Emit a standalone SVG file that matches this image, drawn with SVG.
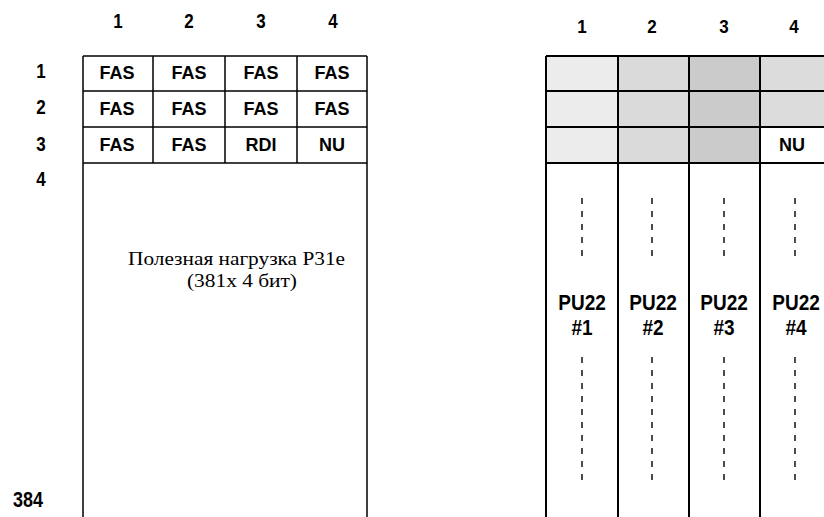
<svg xmlns="http://www.w3.org/2000/svg" width="824" height="517" viewBox="0 0 824 517">
<style>
.hdr{font-family:"Liberation Sans",Arial,sans-serif;font-weight:bold;font-size:17px;fill:#000;text-anchor:middle}
.cell{font-family:"Liberation Sans",Arial,sans-serif;font-weight:bold;font-size:18px;fill:#000;text-anchor:middle}
.pu{font-family:"Liberation Sans",Arial,sans-serif;font-weight:bold;font-size:19px;fill:#000;text-anchor:middle}
.ser{font-family:"Liberation Serif","Times New Roman",serif;font-size:18px;fill:#000;text-anchor:middle}
.ln{stroke:#000;stroke-width:1.5;fill:none}
.lnr{stroke:#000;stroke-width:2;fill:none}
.dash{stroke:#000;stroke-width:1.4;stroke-dasharray:6,7;fill:none}
</style>
<rect width="824" height="517" fill="#fff"/>
<g id="left-headers">
<text class="hdr" transform="translate(118,28) scale(1,1.2)">1</text>
<text class="hdr" transform="translate(189,28) scale(1,1.2)">2</text>
<text class="hdr" transform="translate(261,28) scale(1,1.2)">3</text>
<text class="hdr" transform="translate(333,28) scale(1,1.2)">4</text>
<text class="hdr" transform="translate(41,78) scale(1,1.2)">1</text>
<text class="hdr" transform="translate(41,114) scale(1,1.2)">2</text>
<text class="hdr" transform="translate(41,151) scale(1,1.2)">3</text>
<text class="hdr" transform="translate(41,186) scale(1,1.2)">4</text>
<text class="hdr" transform="translate(28,507) scale(1,1.2)" style="font-size:18px">384</text>
</g>
<g id="left-table">
<path class="ln" d="M83 56 H367 M83 91 H367 M83 127 H367 M83 163 H367 M83 56 V517 M367 56 V517 M153 56 V163 M225 56 V163 M297 56 V163"/>
<text class="cell" x="117" y="79">FAS</text>
<text class="cell" x="189" y="79">FAS</text>
<text class="cell" x="261" y="79">FAS</text>
<text class="cell" x="332" y="79">FAS</text>
<text class="cell" x="117" y="115">FAS</text>
<text class="cell" x="189" y="115">FAS</text>
<text class="cell" x="261" y="115">FAS</text>
<text class="cell" x="332" y="115">FAS</text>
<text class="cell" x="117" y="151">FAS</text>
<text class="cell" x="189" y="151">FAS</text>
<text class="cell" x="261" y="151">RDI</text>
<text class="cell" x="332" y="151">NU</text>
<text class="ser" x="236.5" y="265" textLength="217" lengthAdjust="spacingAndGlyphs">Полезная нагрузка P31e</text>
<text class="ser" x="242" y="287" textLength="110" lengthAdjust="spacingAndGlyphs">(381x 4 бит)</text>
</g>
<g id="right-headers">
<text class="hdr" transform="translate(582,33) scale(1,1.1)">1</text>
<text class="hdr" transform="translate(652,33) scale(1,1.1)">2</text>
<text class="hdr" transform="translate(724,33) scale(1,1.1)">3</text>
<text class="hdr" transform="translate(794,33) scale(1,1.1)">4</text>
</g>
<g id="right-table">
<rect x="546" y="56" width="72" height="107" fill="#ececec"/>
<rect x="618" y="56" width="71" height="107" fill="#dadada"/>
<rect x="689" y="56" width="71" height="107" fill="#cbcbcb"/>
<rect x="760" y="56" width="64" height="71" fill="#dcdcdc"/>
<path class="lnr" d="M546 56 H824 M546 91 H824 M546 127 H824 M546 163 H824 M546 56 V517 M618 56 V517 M689 56 V517 M760 56 V517"/>
<text class="cell" x="792" y="151">NU</text>
<path class="dash" d="M582 198 V263 M652 198 V263 M724 198 V263 M795 198 V263 M582 357 V480 M652 357 V480 M724 357 V480 M795 357 V480"/>
<text class="pu" transform="translate(582,310) scale(1,1.2)">PU22</text>
<text class="pu" transform="translate(582,335) scale(1,1.2)">#1</text>
<text class="pu" transform="translate(653,310) scale(1,1.2)">PU22</text>
<text class="pu" transform="translate(653,335) scale(1,1.2)">#2</text>
<text class="pu" transform="translate(724,310) scale(1,1.2)">PU22</text>
<text class="pu" transform="translate(724,335) scale(1,1.2)">#3</text>
<text class="pu" transform="translate(796,310) scale(1,1.2)">PU22</text>
<text class="pu" transform="translate(796,335) scale(1,1.2)">#4</text>
</g>
</svg>
